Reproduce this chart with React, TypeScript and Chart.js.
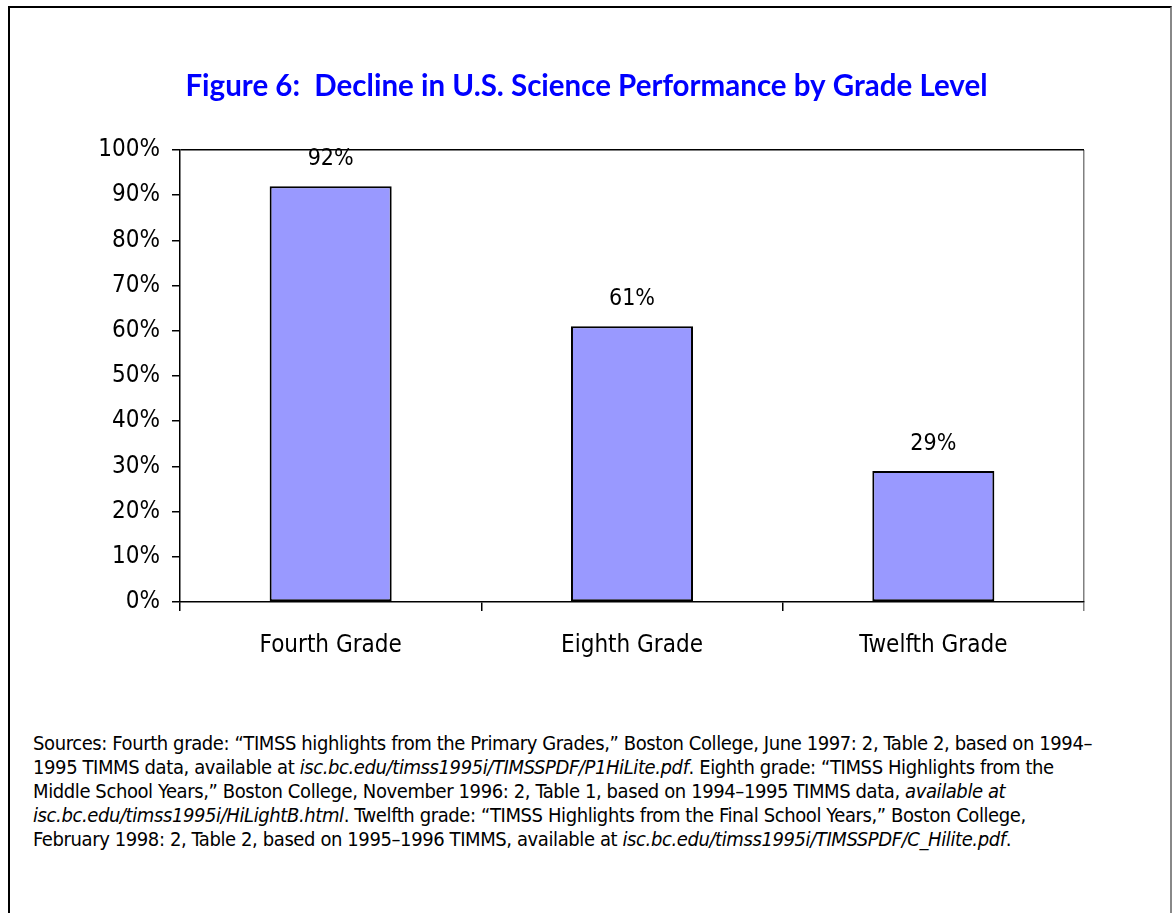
import React, { useEffect, useRef } from "react";
import { Chart, registerables } from "chart.js";

Chart.register(...registerables);

const categories = ["Fourth Grade", "Eighth Grade", "Twelfth Grade"];
const values = [92, 61, 29];
const yTicks = [0, 10, 20, 30, 40, 50, 60, 70, 80, 90, 100];
const titleText = "Figure 6:  Decline in U.S. Science Performance by Grade Level";

const NARROW = '"Liberation Sans Narrow", "DejaVu Sans Condensed", "Arial Narrow", sans-serif';

const labelPlugin = {
  id: "barLabels",
  afterDatasetsDraw(chart: any) {
    const { ctx } = chart;
    const meta = chart.getDatasetMeta(0);
    ctx.save();
    ctx.font = `23px ${NARROW}`;
    ctx.fillStyle = "#000";
    ctx.textAlign = "center";
    ctx.textBaseline = "middle";
    meta.data.forEach((bar: any, i: number) => {
      ctx.fillText(values[i] + "%", bar.x, bar.y - 27);
    });
    ctx.restore();
  },
};

export default function App() {
  const ref = useRef<HTMLCanvasElement>(null);
  useEffect(() => {
    if (!ref.current) return;
    const chart = new Chart(ref.current, {
      type: "bar",
      data: {
        labels: categories,
        datasets: [
          {
            data: values,
            backgroundColor: "#9999FF",
            borderColor: "#000",
            borderWidth: 2,
            borderSkipped: false,
            barPercentage: 0.405,
            categoryPercentage: 1,
          },
        ],
      },
      options: {
        animation: false,
        responsive: false,
        maintainAspectRatio: false,
        layout: { padding: { left: 0, right: 0, top: 0, bottom: 0 } },
        plugins: {
          legend: { display: false },
          tooltip: { enabled: false },
          title: {
            display: true,
            text: titleText,
            color: "#0000FF",
            font: { family: "Lato, 'Open Sans', sans-serif", size: 29.5, weight: "bold", lineHeight: 1.2 },
            padding: { top: 69, bottom: 45.6 },
          },
        },
        scales: {
          x: {
            afterFit: (s: any) => {
              s.height = 98;
            },
            grid: {
              offset: true,
              drawOnChartArea: true,
              drawTicks: true,
              tickLength: 9,
              color: (c: any) => (c.type === "scale" || c.index === categories.length ? "#808080" : "rgba(0,0,0,0)"),
              tickColor: (c: any) => (c.type === "scale" || c.index === categories.length ? "#808080" : "#000"),
              lineWidth: 1.5,
            },
            border: { display: true, color: "#000", width: 1.5 },
            ticks: {
              color: "#000",
              font: { family: NARROW, size: 24 },
              padding: 20,
            },
          },
          y: {
            min: 0,
            max: 100,
            afterFit: (s: any) => {
              s.width = 180;
            },
            afterBuildTicks: (s: any) => {
              s.ticks = yTicks.map((v) => ({ value: v }));
            },
            grid: {
              drawOnChartArea: true,
              drawTicks: true,
              tickLength: 8,
              color: (c: any) => (c.tick && c.tick.value === 100 ? "#000" : "rgba(0,0,0,0)"),
              tickColor: "#000",
              lineWidth: 1.5,
            },
            border: { display: true, color: "#000", width: 1.5 },
            ticks: {
              color: "#000",
              font: { family: NARROW, size: 24 },
              padding: 12,
              callback: (v: any) => v + "%",
            },
          },
          yRight: {
            position: "right",
            min: 0,
            max: 100,
            display: true,
            afterFit: (s: any) => {
              s.width = 89;
            },
            grid: { display: false, drawOnChartArea: false },
            border: { display: false },
            ticks: { display: false },
          },
        },
      },
      plugins: [labelPlugin],
    });
    return () => chart.destroy();
  }, []);

  return (
    <div style={{ position: "absolute", left: 0, top: 0, width: 1173, height: 913, overflow: "hidden", background: "#fff" }}>
      <div
        style={{
          position: "absolute",
          left: 8,
          top: 6,
          width: 1164,
          height: 940,
          borderLeft: "2px solid #000",
          borderTop: "2px solid #000",
          borderRight: "2px solid #888",
          boxSizing: "border-box",
        }}
      />
      <canvas ref={ref} width={1173} height={700} style={{ position: "absolute", left: 0, top: 0 }} />
      <div
        style={{
          position: "absolute",
          left: 33,
          top: 731,
          fontFamily: NARROW,
          fontSize: 20,
          lineHeight: "24px",
          letterSpacing: "-0.4px",
          color: "#000",
          whiteSpace: "nowrap",
        }}
      >
        Sources: Fourth grade: “TIMSS highlights from the Primary Grades,” Boston College, June 1997: 2, Table 2, based on 1994–
        <br />
        1995 TIMMS data, available at <i>isc.bc.edu/timss1995i/TIMSSPDF/P1HiLite.pdf</i>. Eighth grade: “TIMSS Highlights from the
        <br />
        Middle School Years,” Boston College, November 1996: 2, Table 1, based on 1994–1995 TIMMS data, <i>available at</i>
        <br />
        <i>isc.bc.edu/timss1995i/HiLightB.html</i>. Twelfth grade: “TIMSS Highlights from the Final School Years,” Boston College,
        <br />
        February 1998: 2, Table 2, based on 1995–1996 TIMMS, available at <i>isc.bc.edu/timss1995i/TIMSSPDF/C_Hilite.pdf</i>.
      </div>
    </div>
  );
}
